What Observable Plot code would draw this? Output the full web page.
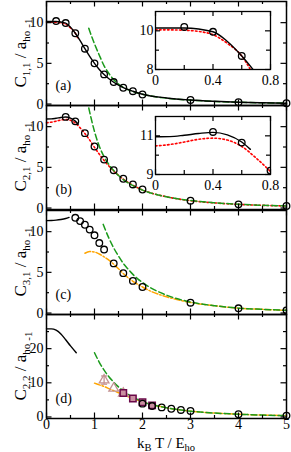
<!DOCTYPE html>
<html><head><meta charset="utf-8">
<script src="https://cdn.jsdelivr.net/npm/d3@7"></script>
<script src="https://cdn.jsdelivr.net/npm/@observablehq/plot@0.6"></script>
<style>
body{margin:0;background:#fff;}
#chart{position:relative;width:291px;height:452px;overflow:hidden;font-family:"Liberation Serif",serif;}
#chart svg{position:absolute;left:0;}
</style></head><body><div id="chart"></div>
<script>
// ---------- data ----------
const xMajor = [0,1,2,3,4,5];
const xMinor = [0.5,1.5,2.5,3.5,4.5];
const insetXMajor = [0,0.4,0.8];
const insetXMinor = [0.2,0.6];

// panel (a) C11
const a_black_T = [0,0.2,0.4,0.5,0.6,0.7,0.8,0.9,1.0,1.1,1.2,1.3,1.4,1.5,1.6,1.8,2.0,2.5,3.0,3.5,4.0,4.5,5.0];
const a_black_C = [10.15,10.15,9.95,9.45,8.7,7.8,6.8,5.85,5.0,4.25,3.62,3.1,2.68,2.32,2.02,1.57,1.2,0.75,0.5,0.34,0.22,0.15,0.1];
const a_red_T = [0,0.1,0.2,0.3,0.4,0.5,0.6,0.66];
const a_red_C = [10.05,10.05,10.03,9.97,9.8,9.35,8.7,8.0];
const a_circ_T = [0.2,0.4,0.6,0.8,1.0,1.2,1.4,1.6,1.8,2.0,3.0,4.0,5.0];
const a_circ_C = [10.2,9.95,8.7,6.8,5.0,3.64,2.7,2.0,1.58,1.17,0.5,0.22,0.1];
const a_green_T = [0.88,1.0,1.1,1.2,1.3,1.4,1.5,1.6,1.8,2.0,2.5,3.0,3.5,4.0,4.5,5.0];
const a_green_C = [9.3,7.4,6.0,4.7,3.75,3.0,2.45,2.05,1.55,1.2,0.72,0.47,0.32,0.22,0.15,0.11];

// panel (b) C21
const b_black_T = [0,0.1,0.2,0.3,0.4,0.5,0.6,0.66];
const b_black_C = [10.95,10.96,11.03,11.12,11.18,11.05,10.68,10.3];
const b_red_T = [0,0.1,0.2,0.3,0.4,0.5,0.6,0.7,0.8,0.9,1.0,1.2,1.4,1.6,1.8,2.0,2.5,3.0,3.5,4.0,4.5,5.0];
const b_red_C = [10.48,10.55,10.68,10.82,10.88,10.78,10.45,9.85,9.15,8.35,7.45,5.85,4.55,3.55,2.8,2.22,1.38,0.9,0.63,0.45,0.33,0.25];
const b_circ_T = [0.4,0.6,0.8,1.0,1.2,1.4,1.6,1.8,2.0,3.0,4.0,5.0];
const b_circ_C = [11.2,10.65,9.2,7.56,5.95,4.65,3.6,2.9,2.28,0.9,0.45,0.25];
const b_green_T = [0.88,1.0,1.1,1.2,1.3,1.4,1.5,1.6,1.8,2.0,2.5,3.0,3.5,4.0,4.5,5.0];
const b_green_C = [12.3,9.4,7.6,6.3,5.35,4.6,4.0,3.5,2.75,2.2,1.38,0.92,0.65,0.47,0.34,0.26];

// panel (c) C31
const c_black_T = [0,0.1,0.2,0.3,0.4,0.47];
const c_black_C = [11.35,11.37,11.42,11.5,11.62,11.75];
const c_circ_T = [0.6,0.7,0.8,0.9,1.0,1.1,1.2,1.4,1.6,1.8,2.0,3.0,4.0,5.0];
const c_circ_C = [11.7,11.3,10.85,10.25,9.55,8.6,7.8,6.1,4.9,3.95,3.2,1.27,0.58,0.33];
const c_orange_T = [0.8,0.9,1.0,1.1,1.2,1.3,1.4,1.5,1.6,1.8,2.0,2.2,2.5,3.0,3.5,4.0,4.5,5.0];
const c_orange_C = [7.35,7.55,7.5,7.25,6.9,6.5,6.0,5.45,4.85,3.9,3.2,2.6,2.0,1.3,0.9,0.6,0.45,0.33];
const c_green_T = [1.18,1.3,1.4,1.5,1.6,1.7,1.8,1.9,2.0,2.2,2.5,3.0,3.5,4.0,4.5,5.0];
const c_green_C = [10.9,9.2,8.0,7.0,6.1,5.4,4.75,4.2,3.75,3.0,2.2,1.35,0.9,0.6,0.45,0.33];

// panel (d) C22
const d_black_T = [0,0.1,0.2,0.3,0.4,0.5,0.62];
const d_black_C = [25.8,25.8,25.4,24.3,22.6,20.8,18.8];
const d_green_T = [1.0,1.1,1.2,1.3,1.4,1.5,1.6,1.7,1.8,2.0,2.2,2.5,3.0,3.5,4.0,4.5,5.0];
const d_green_C = [18.8,16.0,13.7,11.8,10.2,8.8,7.6,6.6,5.8,4.5,3.6,2.7,1.7,1.15,0.8,0.55,0.4];
const d_orange_T = [1.0,1.1,1.2,1.3,1.4,1.5,1.6,1.8,2.0,2.2,2.5,3.0,3.5,4.0,4.5,5.0];
const d_orange_C = [9.9,9.4,8.9,8.3,7.7,7.1,6.5,5.4,4.4,3.6,2.7,1.7,1.15,0.8,0.55,0.4];
const d_tri_T = [1.2,1.4,1.6];
const d_tri_C = [10.8,8.4,6.9];
const d_tri_err = [1.2,0,0];
const d_sq_T = [1.6,1.8,2.0,2.2];
const d_sq_C = [7.0,5.4,4.3,3.4];
const d_circ_T = [2.0,2.2,2.4,2.6,2.8,3.0,4.0,5.0];
const d_circ_C = [3.9,3.2,2.8,2.4,2.05,1.75,0.8,0.4];

const yLabelSubs = ["1,1","2,1","3,1","2,2"];
const tags = ["(a)","(b)","(c)","(d)"];

// ---------- helpers ----------
const zip = (T, C, extra) => T.map((t, i) => ({x: t, y: C[i], e: extra ? extra[i] : 0}));
const FONT = "Liberation Serif";
const GREEN = "#1a9a1a", RED = "#ff0000", ORANGE = "#ffa500", SQ = "#6a0848", TRI = "#c39292";
const chart = document.getElementById("chart");

const lineBlack = (T, C, o={}) => Plot.line(zip(T,C), {x:"x", y:"y", stroke:"black", strokeWidth:1.4, curve:"monotone-x", ...o});
const lineRed = (T, C, o={}) => Plot.line(zip(T,C), {x:"x", y:"y", stroke:RED, strokeWidth:1.6, strokeDasharray:"1.6,2.4", curve:"monotone-x", ...o});
const lineGreen = (T, C, o={}) => Plot.line(zip(T,C), {x:"x", y:"y", stroke:GREEN, strokeWidth:1.5, strokeDasharray:"6,3", curve:"monotone-x", ...o});
const lineOrange = (T, C, o={}) => Plot.line(zip(T,C), {x:"x", y:"y", stroke:ORANGE, strokeWidth:1.5, strokeDasharray:"6,2,1.5,2", curve:"monotone-x", ...o});
const circles = (T, C, o={}) => Plot.dot(zip(T,C), {x:"x", y:"y", r:3.3, stroke:"black", strokeWidth:1.3, fill:"none", ...o});

// horizontal cap symbol for error bars
const capSymbol = {draw(ctx, size) { const r = Math.sqrt(size / Math.PI); ctx.moveTo(-r, 0); ctx.lineTo(r, 0); }};

function ticksMarks(fw, fh, xMaj, xMin, yMaj, yMin, LM, Lm) {
  const s = {stroke:"black", strokeWidth:1.2};
  return [
    Plot.tickX(xMaj, {x:d=>d, insetTop: fh-LM, ...s}),
    Plot.tickX(xMaj, {x:d=>d, insetBottom: fh-LM, ...s}),
    Plot.tickX(xMin, {x:d=>d, insetTop: fh-Lm, ...s}),
    Plot.tickX(xMin, {x:d=>d, insetBottom: fh-Lm, ...s}),
    Plot.tickY(yMaj, {y:d=>d, insetRight: fw-LM, ...s}),
    Plot.tickY(yMaj, {y:d=>d, insetLeft: fw-LM, ...s}),
    Plot.tickY(yMin, {y:d=>d, insetRight: fw-Lm, ...s}),
    Plot.tickY(yMin, {y:d=>d, insetLeft: fw-Lm, ...s})
  ];
}

const STYLE = {background:"transparent", overflow:"visible", fontFamily:FONT, fontSize:"14px", color:"black"};

function addYLabel(svg, sub, cy) {
  const t = d3.select(svg).append("text")
    .attr("transform", `translate(26,${cy}) rotate(-90)`)
    .attr("text-anchor","middle")
    .attr("font-family",FONT).attr("font-size",17).attr("fill","black");
  t.append("tspan").text("C");
  t.append("tspan").attr("font-size",11).attr("dy",4).text(sub);
  t.append("tspan").attr("dy",-4).text(" / a");
  t.append("tspan").attr("font-size",11).attr("dy",4).text("ho");
  t.append("tspan").attr("font-size",11).attr("dy",2).attr("dx",3).text("-1");
}

const FW = 240, FH = 104, PT = [0.5, 105, 209.5, 314];

function panel(i, yDomain, yMaj, yMin, marks, bottom) {
  const mt = 2, mb = bottom ? 34 : 2;
  const p = Plot.plot({
    width: 291, height: mt + FH + mb,
    marginLeft: 46, marginRight: 5, marginTop: mt, marginBottom: mb,
    x: {domain:[0,5], ...(bottom ? {} : {axis:null})},
    y: {domain: yDomain},
    style: STYLE,
    marks: [
      ...marks,
      ...ticksMarks(FW, FH, xMajor, xMinor, yMaj, yMin, 5.5, 3),
      Plot.frame({stroke:"black", strokeWidth:1.5}),
      Plot.axisY(yMaj, {anchor:"left", tickSize:0, tickPadding:3, label:null, fontSize:14}),
      ...(bottom ? [Plot.axisX(xMajor, {anchor:"bottom", tickSize:0, tickPadding:1, label:null, fontSize:14})] : []),
      Plot.text([tags[i]], {text:d=>d, frameAnchor:"bottom-left", dx:9, dy:-16, textAnchor:"start", fontSize:14})
    ]
  });
  p.style.top = (PT[i] - mt) + "px";
  addYLabel(p, yLabelSubs[i], mt + FH/2);
  if (bottom) {
    const t = d3.select(p).append("text")
      .attr("x", 46 + FW/2).attr("y", mt + FH + 30)
      .attr("text-anchor","middle").attr("font-family",FONT).attr("font-size",15).attr("fill","black");
    t.append("tspan").text("k");
    t.append("tspan").attr("font-size",10.5).attr("dy",3).text("B");
    t.append("tspan").attr("dy",-3).text(" T / E");
    t.append("tspan").attr("font-size",10.5).attr("dy",3).text("ho");
  }
  chart.appendChild(p);
}

const IW = 115, IH = 58;
function inset(i, yDomain, yMaj, yMin, marks) {
  const mt = 2, mb = 22;
  const p = Plot.plot({
    width: 291, height: mt + IH + mb,
    marginLeft: 155, marginRight: 291 - 155 - IW, marginTop: mt, marginBottom: mb,
    x: {domain:[0,0.8]},
    y: {domain: yDomain},
    style: STYLE,
    marks: [
      Plot.frame({fill:"white"}),
      ...marks,
      ...ticksMarks(IW, IH, insetXMajor, insetXMinor, yMaj, yMin, 5, 4),
      Plot.frame({stroke:"black", strokeWidth:1.3}),
      Plot.axisY(yMaj, {anchor:"left", tickSize:0, tickPadding:2, label:null, fontSize:14}),
      Plot.axisX(insetXMajor, {anchor:"bottom", tickSize:0, tickPadding:6, label:null, fontSize:14, tickFormat:d=>String(d)})
    ]
  });
  p.style.top = (PT[i] + 10.5 - mt) + "px";
  chart.appendChild(p);
}

// ---------- panels ----------
panel(0, [-0.18, 12.6], [0,5,10], [2.5,7.5], [
  lineRed(a_red_T, a_red_C),
  lineGreen(a_green_T, a_green_C),
  lineBlack(a_black_T, a_black_C),
  circles(a_circ_T, a_circ_C)
]);
inset(0, [8, 11], [8,10], [9], [
  lineRed(a_red_T, a_red_C, {clip:true}),
  lineBlack(a_black_T, a_black_C, {clip:true}),
  circles(a_circ_T, a_circ_C, {clip:true})
]);

panel(1, [-0.18, 12.6], [0,5,10], [2.5,7.5], [
  lineRed(b_red_T, b_red_C),
  lineGreen(b_green_T, b_green_C, {clip:true}),
  lineBlack(b_black_T, b_black_C),
  circles(b_circ_T, b_circ_C)
]);
inset(1, [9, 12], [9,11], [10], [
  lineRed(b_red_T, b_red_C, {clip:true}),
  lineBlack(b_black_T, b_black_C, {clip:true}),
  circles(b_circ_T, b_circ_C, {clip:true})
]);

panel(2, [-0.18, 12.6], [0,5,10], [2.5,7.5], [
  lineOrange(c_orange_T, c_orange_C),
  lineGreen(c_green_T, c_green_C),
  lineBlack(c_black_T, c_black_C),
  circles(c_circ_T, c_circ_C, {clip:true})
]);

const triData = zip(d_tri_T, d_tri_C, d_tri_err);
const triErr = triData.filter(d => d.e > 0);
panel(3, [-0.45, 30], [0,10,20], [5,15,25], [
  lineOrange(d_orange_T, d_orange_C),
  lineGreen(d_green_T, d_green_C),
  lineBlack(d_black_T, d_black_C),
  Plot.ruleX(triErr, {x:"x", y1:d=>d.y-d.e, y2:d=>d.y+d.e, stroke:TRI, strokeWidth:1.3}),
  Plot.dot(triErr.flatMap(d => [{x:d.x, y:d.y-d.e}, {x:d.x, y:d.y+d.e}]), {x:"x", y:"y", symbol:capSymbol, r:3, stroke:TRI, strokeWidth:1.3, fill:"none"}),
  Plot.dot(triData, {x:"x", y:"y", symbol:"triangle", r:3.6, stroke:TRI, strokeWidth:1.3, fill:"none"}),
  Plot.dot(zip(d_sq_T, d_sq_C), {x:"x", y:"y", symbol:"square", r:3.6, stroke:SQ, strokeWidth:1.5, fill:"#c98fa0"}),
  circles(d_circ_T, d_circ_C)
], true);
</script></body></html>
